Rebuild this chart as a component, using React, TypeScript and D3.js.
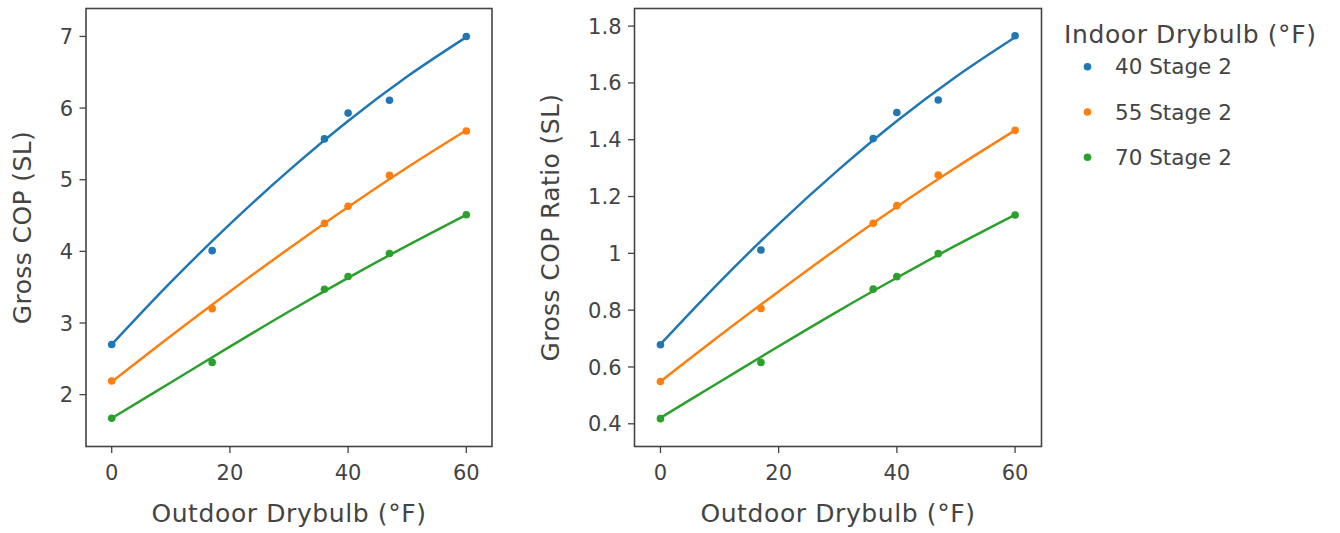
import React from "react";
import * as d3 from "d3";

// Outdoor drybulb temperatures (°F) of the test points
const outdoorTemps = [0, 17, 36, 40, 47, 60];
// Temperatures at which the fitted curves are sampled
const fitTemps = [0, 10, 20, 30, 40, 50, 60];

const seriesNames = ["40 Stage 2", "55 Stage 2", "70 Stage 2"];
const seriesColors = ["#1f77b4", "#ff7f0e", "#2ca02c"];

// Gross COP (SL)
const cop40 = [2.7, 4.01, 5.57, 5.93, 6.11, 7.0];
const cop55 = [2.19, 3.2, 4.39, 4.63, 5.06, 5.68];
const cop70 = [1.67, 2.45, 3.47, 3.65, 3.97, 4.51];
const copFit40 = [2.7, 3.57, 4.38, 5.13, 5.82, 6.44, 6.99];
const copFit55 = [2.18, 2.82, 3.44, 4.04, 4.62, 5.17, 5.69];
const copFit70 = [1.67, 2.17, 2.67, 3.16, 3.63, 4.08, 4.51];

// Gross COP Ratio (SL)
const ratio40 = [0.678, 1.012, 1.404, 1.496, 1.54, 1.766];
const ratio55 = [0.549, 0.806, 1.106, 1.168, 1.276, 1.433];
const ratio70 = [0.418, 0.616, 0.874, 0.918, 0.999, 1.135];
const ratioFit40 = [0.68, 0.899, 1.103, 1.292, 1.466, 1.622, 1.761];
const ratioFit55 = [0.549, 0.71, 0.866, 1.018, 1.164, 1.302, 1.433];
const ratioFit70 = [0.421, 0.547, 0.673, 0.796, 0.914, 1.028, 1.136];

const xTicks = [0, 20, 40, 60];
const copTicks = [2, 3, 4, 5, 6, 7];
const ratioTicks = [0.4, 0.6, 0.8, 1, 1.2, 1.4, 1.6, 1.8];

const FONT = "'DejaVu Sans', Verdana, sans-serif";
const TEXT = "#444";

type PanelProps = {
  x0: number;
  x1: number;
  y0: number;
  y1: number;
  xDomain: [number, number];
  yDomain: [number, number];
  yTicks: number[];
  yTitle: string;
  yTitleX: number;
  points: number[][];
  fits: number[][];
};

function Panel(p: PanelProps) {
  const x = d3.scaleLinear().domain(p.xDomain).range([p.x0, p.x1]);
  const y = d3.scaleLinear().domain(p.yDomain).range([p.y1, p.y0]);
  const line = d3
    .line<number>()
    .x((_, i) => x(fitTemps[i]))
    .y((v) => y(v))
    .curve(d3.curveMonotoneX);
  const cx = (p.x0 + p.x1) / 2;
  const cy = (p.y0 + p.y1) / 2;
  return (
    <g>
      <defs>
        <clipPath id={`clip-${p.x0}`}>
          <rect x={p.x0} y={p.y0} width={p.x1 - p.x0} height={p.y1 - p.y0} />
        </clipPath>
      </defs>
      <g clipPath={`url(#clip-${p.x0})`}>
        {p.fits.map((f, i) => (
          <path key={i} d={line(f) || ""} fill="none" stroke={seriesColors[i]} strokeWidth={2.5} />
        ))}
        {p.points.map((s, i) =>
          s.map((v, j) => (
            <circle key={`${i}-${j}`} cx={x(outdoorTemps[j])} cy={y(v)} r={3.8} fill={seriesColors[i]} />
          ))
        )}
      </g>
      <rect
        x={p.x0}
        y={p.y0}
        width={p.x1 - p.x0}
        height={p.y1 - p.y0}
        fill="none"
        stroke="#444"
        strokeWidth={1.6}
      />
      {xTicks.map((t) => (
        <g key={t}>
          <line x1={x(t)} x2={x(t)} y1={p.y1} y2={p.y1 + 6.5} stroke="#444" strokeWidth={1.3} />
          <text x={x(t)} y={p.y1 + 33} textAnchor="middle" fontSize={21} fill={TEXT} fontFamily={FONT}>
            {d3.format("~g")(t)}
          </text>
        </g>
      ))}
      {p.yTicks.map((t) => (
        <g key={t}>
          <line x1={p.x0 - 6.5} x2={p.x0} y1={y(t)} y2={y(t)} stroke="#444" strokeWidth={1.3} />
          <text
            x={p.x0 - 13}
            y={y(t)}
            dy="0.36em"
            textAnchor="end"
            fontSize={21}
            fill={TEXT}
            fontFamily={FONT}
          >
            {d3.format("~g")(t)}
          </text>
        </g>
      ))}
      <text
        x={cx}
        y={p.y1 + 75}
        textAnchor="middle"
        fontSize={25}
        letterSpacing={0.6}
        fill={TEXT}
        fontFamily={FONT}
      >
        Outdoor Drybulb (°F)
      </text>
      <text
        transform={`translate(${p.yTitleX},${cy}) rotate(-90)`}
        textAnchor="middle"
        fontSize={25}
        letterSpacing={0.4}
        fill={TEXT}
        fontFamily={FONT}
      >
        {p.yTitle}
      </text>
    </g>
  );
}

export default function App() {
  return (
    <svg
      width={1340}
      height={533}
      style={{ position: "absolute", left: 0, top: 0, background: "#fff" }}
    >
      <rect width={1340} height={533} fill="#fff" />
      <Panel
        x0={86}
        x1={492}
        y0={8.5}
        y1={446.5}
        xDomain={[-4.35, 64.35]}
        yDomain={[1.276, 7.39]}
        yTicks={copTicks}
        yTitle="Gross COP (SL)"
        yTitleX={31}
        points={[cop40, cop55, cop70]}
        fits={[copFit40, copFit55, copFit70]}
      />
      <Panel
        x0={634.5}
        x1={1041.5}
        y0={8.5}
        y1={446.5}
        xDomain={[-4.39, 64.47]}
        yDomain={[0.32, 1.862]}
        yTicks={ratioTicks}
        yTitle="Gross COP Ratio (SL)"
        yTitleX={559}
        points={[ratio40, ratio55, ratio70]}
        fits={[ratioFit40, ratioFit55, ratioFit70]}
      />
      <g fontFamily={FONT} fill={TEXT}>
        <text x={1064} y={42.5} fontSize={25} letterSpacing={0.6}>
          Indoor Drybulb (°F)
        </text>
        {seriesNames.map((name, i) => {
          const yy = 66.7 + i * 45.3;
          return (
            <g key={name}>
              <circle cx={1087.5} cy={yy} r={3.8} fill={seriesColors[i]} />
              <text x={1115} y={yy} dy="0.36em" fontSize={21.5}>
                {name}
              </text>
            </g>
          );
        })}
      </g>
    </svg>
  );
}
